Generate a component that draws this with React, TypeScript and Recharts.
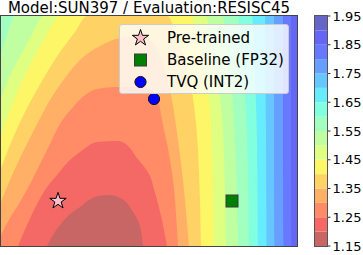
import React from 'react';
import { ComposedChart, Area, Scatter, XAxis, YAxis, Legend, ReferenceArea } from 'recharts';

// ---------- data ----------
const TITLE = 'Model:SUN397 / Evaluation:RESISC45';
const LEVELS = [1.15, 1.2, 1.25, 1.3, 1.35, 1.4, 1.45, 1.5, 1.55, 1.6, 1.65, 1.7, 1.75, 1.8, 1.85, 1.9, 1.95];
const CBAR_TICKS = [1.15, 1.25, 1.35, 1.45, 1.55, 1.65, 1.75, 1.85, 1.95];
const X_RANGE: [number, number] = [0, 296];
const Y_RANGE: [number, number] = [0, 230];

// sub-level boundaries (region value < level lies under each curve)
const B120 = [
  { x: 46, y: 0 }, { x: 52, y: 11 }, { x: 59, y: 21 }, { x: 68, y: 31 }, { x: 79, y: 39 }, { x: 88, y: 46 },
  { x: 97, y: 50 }, { x: 108, y: 51 }, { x: 117, y: 49 }, { x: 126, y: 43 }, { x: 132, y: 34 }, { x: 137, y: 25 },
  { x: 140, y: 15 }, { x: 142, y: 0 },
];
const B125 = [
  { x: 17, y: 0 }, { x: 32, y: 34 }, { x: 44, y: 56 }, { x: 56, y: 71 }, { x: 69, y: 86 }, { x: 79, y: 94 },
  { x: 96, y: 104 }, { x: 117, y: 105 }, { x: 129, y: 98 }, { x: 136, y: 88 }, { x: 144, y: 78 }, { x: 149, y: 70 },
  { x: 156, y: 46 }, { x: 162, y: 21 }, { x: 166, y: 0 },
];
const B130 = [
  { x: 0, y: 11 }, { x: 9, y: 28 }, { x: 19, y: 44 }, { x: 29, y: 62 }, { x: 39, y: 82 }, { x: 49, y: 102 },
  { x: 59, y: 122 }, { x: 72, y: 139 }, { x: 84, y: 151 }, { x: 96, y: 157 }, { x: 119, y: 159 }, { x: 139, y: 159 },
  { x: 149, y: 157 }, { x: 157, y: 146 }, { x: 162, y: 121 }, { x: 169, y: 86 }, { x: 174, y: 46 }, { x: 177, y: 0 },
];
const B135 = [
  { x: 0, y: 44 }, { x: 9, y: 66 }, { x: 19, y: 88 }, { x: 34, y: 118 }, { x: 49, y: 146 }, { x: 64, y: 168 },
  { x: 79, y: 186 }, { x: 99, y: 200 }, { x: 119, y: 208 }, { x: 139, y: 210 }, { x: 154, y: 201 }, { x: 164, y: 176 },
  { x: 171, y: 146 }, { x: 177, y: 106 }, { x: 183, y: 56 }, { x: 188, y: 0 },
];
const B140 = [
  { x: 0, y: 78 }, { x: 9, y: 101 }, { x: 21, y: 128 }, { x: 37, y: 158 }, { x: 57, y: 191 }, { x: 74, y: 214 },
  { x: 86, y: 230 }, { x: 166, y: 230 }, { x: 177, y: 206 }, { x: 186, y: 176 }, { x: 193, y: 141 }, { x: 197, y: 96 },
  { x: 199, y: 46 }, { x: 200, y: 0 },
];
const B145 = [
  { x: 0, y: 111 }, { x: 7, y: 131 }, { x: 17, y: 156 }, { x: 29, y: 181 }, { x: 44, y: 208 }, { x: 59, y: 230 },
  { x: 190, y: 230 }, { x: 199, y: 201 }, { x: 206, y: 166 }, { x: 210, y: 126 }, { x: 212, y: 66 }, { x: 213, y: 0 },
];
const B150 = [
  { x: 0, y: 148 }, { x: 7, y: 166 }, { x: 17, y: 186 }, { x: 29, y: 208 }, { x: 43, y: 230 },
  { x: 205, y: 230 }, { x: 212, y: 196 }, { x: 218, y: 156 }, { x: 222, y: 116 }, { x: 224, y: 56 }, { x: 225, y: 0 },
];
const B155 = [
  { x: 0, y: 193 }, { x: 6, y: 211 }, { x: 14, y: 230 },
  { x: 221, y: 230 }, { x: 227, y: 196 }, { x: 231, y: 156 }, { x: 234, y: 106 }, { x: 236, y: 46 }, { x: 237, y: 0 },
];
const B160 = [{ x: 0, y: 230 }, { x: 237, y: 230 }, { x: 241, y: 186 }, { x: 245, y: 136 }, { x: 247, y: 76 }, { x: 248, y: 0 }];
const B165 = [{ x: 0, y: 230 }, { x: 251, y: 230 }, { x: 254, y: 166 }, { x: 256, y: 106 }, { x: 257, y: 0 }];
const B170 = [{ x: 0, y: 230 }, { x: 264, y: 230 }, { x: 265, y: 116 }, { x: 265.5, y: 0 }];
const B175 = [{ x: 0, y: 230 }, { x: 273, y: 230 }, { x: 273.5, y: 0 }];
const B180 = [{ x: 0, y: 230 }, { x: 282, y: 230 }, { x: 282.5, y: 0 }];
const B185 = [{ x: 0, y: 230 }, { x: 290, y: 230 }, { x: 290.5, y: 0 }];
const FIELD = [{ x: 0, y: 230 }, { x: 296, y: 230 }];

const BOUNDS: [number, { x: number; y: number }[]][] = [
  [1.85, B185], [1.8, B180], [1.75, B175], [1.7, B170], [1.65, B165], [1.6, B160], [1.55, B155],
  [1.5, B150], [1.45, B145], [1.4, B140], [1.35, B135], [1.3, B130], [1.25, B125], [1.2, B120],
];

const PRETRAINED = [{ x: 57, y: 45 }];
const BASELINE = [{ x: 231, y: 45 }];
const TVQ = [{ x: 153, y: 147 }];
const SERIES_NAMES = ['Pre-trained', 'Baseline (FP32)', 'TVQ (INT2)'];

// ---------- colours (jet_r, alpha 0.6 over white) ----------
const JR: [number, number][] = [[0, 0], [0.35, 0], [0.66, 1], [0.89, 1], [1, 0.5]];
const JG: [number, number][] = [[0, 0], [0.125, 0], [0.375, 1], [0.64, 1], [0.91, 0], [1, 0]];
const JB: [number, number][] = [[0, 0.5], [0.11, 1], [0.34, 1], [0.65, 0], [1, 0]];
const interp = (v: number, pts: [number, number][]) => {
  for (let i = 0; i < pts.length - 1; i++) {
    const [x0, y0] = pts[i];
    const [x1, y1] = pts[i + 1];
    if (v >= x0 && v <= x1) return y0 + ((y1 - y0) * (v - x0)) / (x1 - x0);
  }
  return pts[pts.length - 1][1];
};
const bandColor = (i: number) => {
  const v = 1 - (i + 0.5) / (LEVELS.length - 1);
  const ch = (c: number) => Math.round(255 * (0.6 * c + 0.4));
  return `rgb(${ch(interp(v, JR))},${ch(interp(v, JG))},${ch(interp(v, JB))})`;
};
const bandBelow = (lvl: number) => Math.round((lvl - LEVELS[0]) / 0.05) - 1;

// ---------- markers ----------
const starPath = (cx: number, cy: number, R: number) => {
  const r = R * 0.381966;
  let d = '';
  for (let k = 0; k < 10; k++) {
    const rad = k % 2 === 0 ? R : r;
    const a = (-90 + k * 36) * (Math.PI / 180);
    d += (k === 0 ? 'M' : 'L') + (cx + rad * Math.cos(a)).toFixed(2) + ',' + (cy + rad * Math.sin(a)).toFixed(2);
  }
  return d + 'Z';
};
const StarMark = ({ cx, cy }: any) => <path d={starPath(cx, cy, 8.6)} fill="pink" stroke="#000" strokeWidth={1} />;
const SquareMark = ({ cx, cy }: any) => (
  <rect x={cx - 6} y={cy - 6} width={12} height={12} fill="#008000" stroke="#3a3a3a" strokeWidth={1} />
);
const CircleMark = ({ cx, cy }: any) => <circle cx={cx} cy={cy} r={5.6} fill="#0000ff" stroke="#111" strokeWidth={1} />;
const MARKS = [StarMark, SquareMark, CircleMark];

const FONT = 'DejaVu Sans, sans-serif';

const LegendBox = () => (
  <div
    style={{
      width: 170, height: 70, boxSizing: 'border-box', background: 'rgba(255,255,255,0.8)',
      border: '1px solid rgb(204,204,204)', borderRadius: 3, position: 'relative', fontFamily: FONT,
    }}
  >
    {SERIES_NAMES.map((name, i) => {
      const M = MARKS[i];
      const cy = 12.5 + i * 22.3;
      return (
        <React.Fragment key={name}>
          <svg style={{ position: 'absolute', left: 10, top: cy - 11, overflow: 'visible' }} width={22} height={22}>
            <M cx={10.5} cy={11} />
          </svg>
          <div
            style={{
              position: 'absolute', left: 47, top: cy - 10, height: 20, lineHeight: '20px',
              fontSize: 15, color: '#000', whiteSpace: 'nowrap',
            }}
          >
            {name}
          </div>
        </React.Fragment>
      );
    })}
  </div>
);

export default function App() {
  return (
    <div style={{ position: 'absolute', left: 0, top: 0, width: 363, height: 255, overflow: 'hidden', background: '#fff', fontFamily: FONT }}>
      <div style={{ position: 'absolute', left: 1, top: 0.5, width: 296, textAlign: 'center', fontSize: 15, lineHeight: '15px', color: '#000', whiteSpace: 'nowrap' }}>
        {TITLE}
      </div>
      <div style={{ position: 'absolute', left: 0, top: 0 }}>
        <ComposedChart width={298} height={255} margin={{ top: 16, right: 1, bottom: 9, left: 1 }}>
          <XAxis type="number" dataKey="x" domain={X_RANGE} hide allowDataOverflow />
          <YAxis type="number" dataKey="y" domain={Y_RANGE} hide allowDataOverflow />
          <Area data={FIELD} dataKey="y" type="linear" fill={bandColor(14)} fillOpacity={1} stroke="none" dot={false} activeDot={false} isAnimationActive={false} />
          {BOUNDS.map(([lvl, pts]) => (
            <Area key={lvl} data={pts} dataKey="y" type="monotone" fill={bandColor(bandBelow(lvl))} fillOpacity={1} stroke="none" dot={false} activeDot={false} isAnimationActive={false} />
          ))}
          <Scatter name={SERIES_NAMES[0]} data={PRETRAINED} shape={(p: any) => <StarMark cx={p.cx} cy={p.cy} />} isAnimationActive={false} />
          <Scatter name={SERIES_NAMES[1]} data={BASELINE} shape={(p: any) => <SquareMark cx={p.cx} cy={p.cy} />} isAnimationActive={false} />
          <Scatter name={SERIES_NAMES[2]} data={TVQ} shape={(p: any) => <CircleMark cx={p.cx} cy={p.cy} />} isAnimationActive={false} />
          <Legend layout="vertical" align="center" verticalAlign="middle" content={() => <LegendBox />} wrapperStyle={{ left: 119, top: 24, width: 170, height: 70 }} />
        </ComposedChart>
      </div>
      <div style={{ position: 'absolute', left: 1, top: 16, width: 296, height: 230, outline: '1px solid #444', pointerEvents: 'none' }} />
      <div style={{ position: 'absolute', left: 315, top: 0 }}>
        <ComposedChart width={48} height={255} margin={{ top: 16, right: 0, bottom: 9, left: 0 }} data={[{ x: 0 }, { x: 1 }]}>
          <XAxis type="number" dataKey="x" domain={[0, 1]} hide />
          <YAxis
            type="number" orientation="right" domain={[LEVELS[0], LEVELS[LEVELS.length - 1]]} ticks={CBAR_TICKS}
            interval={0} width={36} axisLine={false} tickSize={3.5} tickMargin={2}
            tickLine={{ stroke: '#000', strokeWidth: 0.8 }}
            tick={{ fontSize: 13, fill: '#000', fontFamily: FONT }}
            tickFormatter={(v: number) => v.toFixed(2)} allowDataOverflow
          />
          {LEVELS.slice(0, -1).map((lv, i) => (
            <ReferenceArea key={lv} y1={lv} y2={LEVELS[i + 1]} fill={bandColor(i)} fillOpacity={1} stroke="none" ifOverflow="visible" />
          ))}
        </ComposedChart>
      </div>
      <div style={{ position: 'absolute', left: 315, top: 16, width: 12, height: 230, outline: '1px solid #555', pointerEvents: 'none' }} />
    </div>
  );
}
